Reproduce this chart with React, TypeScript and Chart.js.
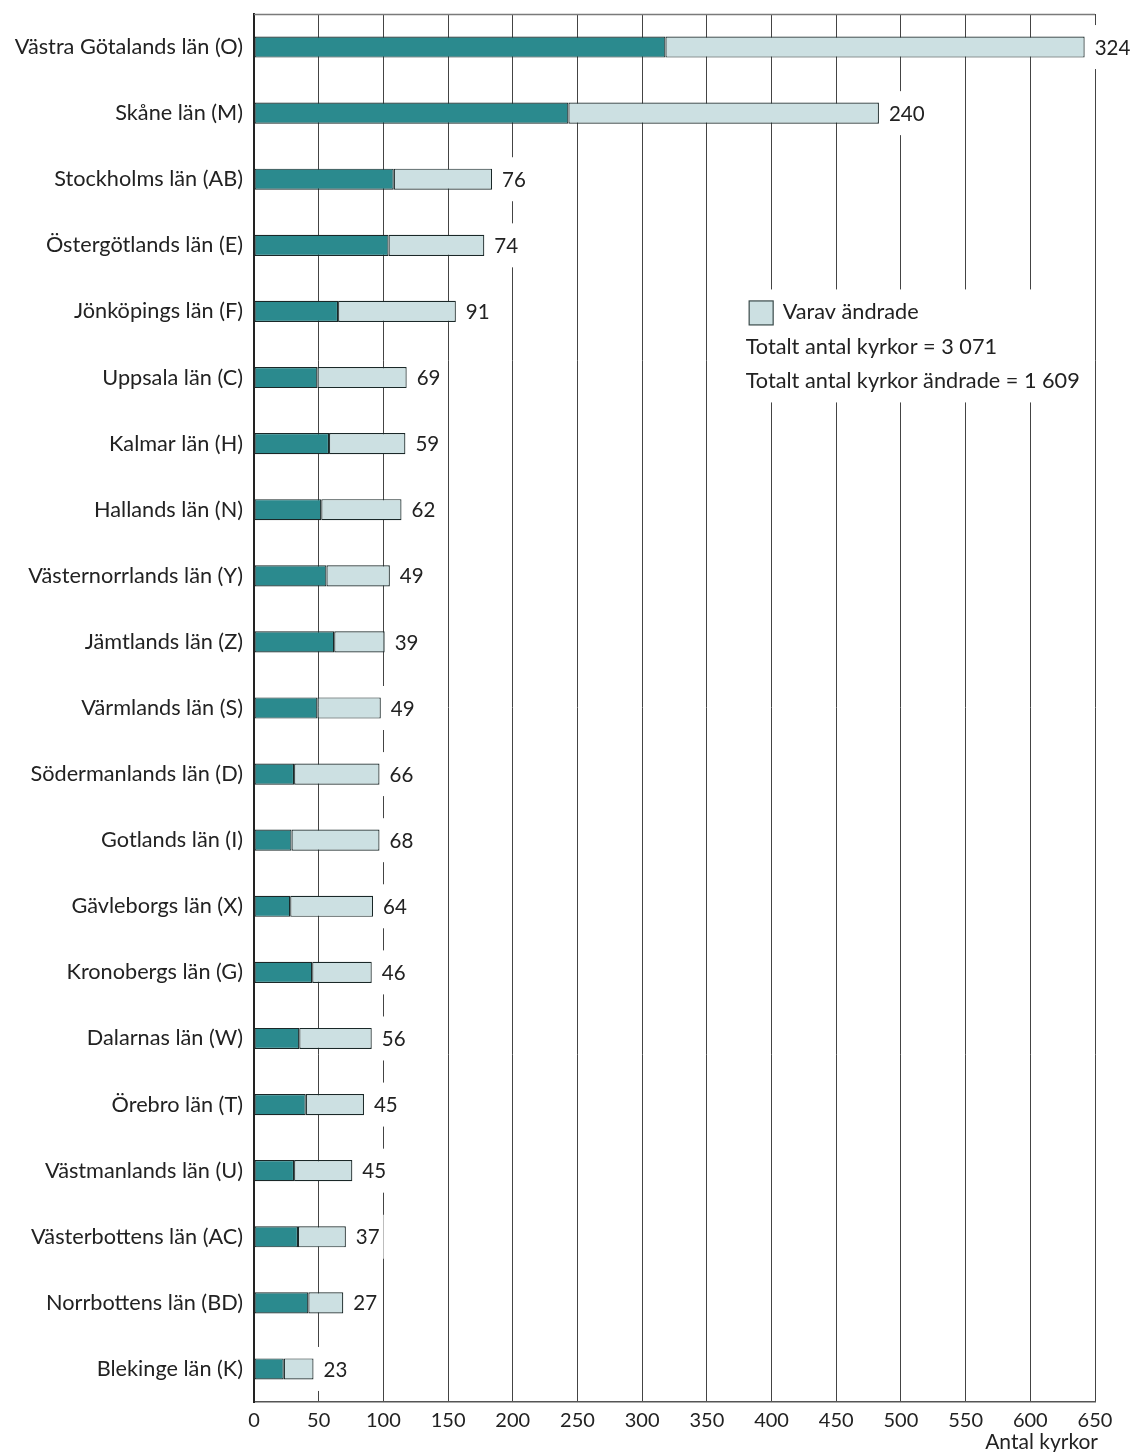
import React, { useEffect, useRef } from "react";
import { Chart, registerables } from "chart.js";

Chart.register(...registerables);

const categories: string[] = [
  "Västra Götalands län (O)",
  "Skåne län (M)",
  "Stockholms län (AB)",
  "Östergötlands län (E)",
  "Jönköpings län (F)",
  "Uppsala län (C)",
  "Kalmar län (H)",
  "Hallands län (N)",
  "Västernorrlands län (Y)",
  "Jämtlands län (Z)",
  "Värmlands län (S)",
  "Södermanlands län (D)",
  "Gotlands län (I)",
  "Gävleborgs län (X)",
  "Kronobergs län (G)",
  "Dalarnas län (W)",
  "Örebro län (T)",
  "Västmanlands län (U)",
  "Västerbottens län (AC)",
  "Norrbottens län (BD)",
  "Blekinge län (K)",
];

// Churches not changed (teal part)
const unchanged: number[] = [318, 243, 108, 104, 65, 49, 58, 52, 56, 62, 49, 31, 29, 28, 45, 35, 40, 31, 34, 42, 23];
// "Varav ändrade" (changed, light part) — also the value labels
const changed: number[] = [324, 240, 76, 74, 91, 69, 59, 62, 49, 39, 49, 66, 68, 64, 46, 56, 45, 45, 37, 27, 23];

const xTicks: number[] = [0, 50, 100, 150, 200, 250, 300, 350, 400, 450, 500, 550, 600, 650];

const legendLabel = "Varav ändrade";
const summaryLines: string[] = ["Totalt antal kyrkor = 3 071", "Totalt antal kyrkor ändrade = 1 609"];
const axisTitle = "Antal kyrkor";

const TEAL = "#2b8a8e";
const LIGHT = "#cce0e2";
const BORDER = "#1a2828";
const TEXT = "#222222";
const FONT = "Lato";

export default function App() {
  const ref = useRef<HTMLCanvasElement | null>(null);

  useEffect(() => {
    if (!ref.current) return;

    const overlay = {
      id: "overlay",
      afterDatasetsDraw(chart: any) {
        const ctx = chart.ctx;
        const meta = chart.getDatasetMeta(1);
        ctx.save();
        // value labels with white background
        ctx.font = `20.5px ${FONT}`;
        ctx.textBaseline = "middle";
        ctx.textAlign = "left";
        meta.data.forEach((bar: any, i: number) => {
          const txt = String(changed[i]);
          const w = ctx.measureText(txt).width;
          const x0 = bar.x + 2;
          ctx.fillStyle = "#ffffff";
          ctx.fillRect(x0, bar.y - 22, w + 12, 44);
          ctx.fillStyle = TEXT;
          ctx.fillText(txt, bar.x + 10, bar.y + 1);
        });

        // legend block
        const xs = chart.scales.x;
        const ys = chart.scales.y;
        const lx = xs.getPixelForValue(380);
        const ly = ys.getPixelForValue(4) - 11;
        ctx.fillStyle = "#ffffff";
        ctx.fillRect(lx - 8, ly - 11, 348, 113);
        ctx.fillStyle = LIGHT;
        ctx.fillRect(lx + 3.5, ly + 0.5, 24, 24);
        ctx.strokeStyle = "#3a4a4a";
        ctx.lineWidth = 1.2;
        ctx.strokeRect(lx + 3.5, ly + 0.5, 24, 24);
        ctx.fillStyle = TEXT;
        ctx.font = `21.7px ${FONT}`;
        ctx.fillText(legendLabel, lx + 37, ly + 12);
        summaryLines.forEach((s, k) => {
          ctx.fillText(s, lx, ly + 47 + k * 34);
        });

        // top frame line
        ctx.strokeStyle = "#7a7a7a";
        ctx.lineWidth = 1.5;
        ctx.beginPath();
        ctx.moveTo(chart.chartArea.left, chart.chartArea.top + 0.5);
        ctx.lineTo(chart.chartArea.right, chart.chartArea.top + 0.5);
        ctx.stroke();

        // axis title
        ctx.font = `21px ${FONT}`;
        ctx.textAlign = "right";
        ctx.fillStyle = TEXT;
        ctx.fillText(axisTitle, chart.chartArea.right + 3, chart.chartArea.bottom + 40);
        ctx.restore();
      },
    };

    const chart = new Chart(ref.current, {
      type: "bar",
      data: {
        labels: categories,
        datasets: [
          {
            label: "Ej ändrade",
            data: unchanged,
            backgroundColor: TEAL,
            borderColor: BORDER,
            borderWidth: 1.2,
            borderSkipped: false,
            barPercentage: 0.32,
            categoryPercentage: 1,
          },
          {
            label: legendLabel,
            data: changed,
            backgroundColor: LIGHT,
            borderColor: BORDER,
            borderWidth: 1.2,
            borderSkipped: false,
            barPercentage: 0.32,
            categoryPercentage: 1,
          },
        ],
      },
      options: {
        indexAxis: "y",
        responsive: false,
        animation: false,
        maintainAspectRatio: false,
        layout: { padding: { top: 14, right: 36, bottom: 0, left: 0 } },
        plugins: {
          legend: { display: false },
          tooltip: { enabled: false },
          title: { display: false },
        },
        scales: {
          x: {
            type: "linear",
            stacked: true,
            min: 0,
            max: 650,
            afterBuildTicks: (scale: any) => {
              scale.ticks = xTicks.map((v) => ({ value: v }));
            },
            afterFit: (scale: any) => {
              scale.height = 50;
              scale.paddingLeft = 0;
              scale.paddingRight = 0;
            },
            grid: {
              display: true,
              color: "#444444",
              lineWidth: 1,
              drawTicks: false,
            },
            border: { display: true, color: "#555555", width: 1.5 },
            ticks: {
              font: { family: FONT, size: 20 },
              color: TEXT,
              padding: 7,
              maxRotation: 0,
              autoSkip: false,
            },
          },
          y: {
            stacked: true,
            afterFit: (scale: any) => {
              scale.width = 254;
              scale.paddingTop = 0;
              scale.paddingBottom = 0;
            },
            grid: { display: false, drawTicks: false },
            border: { display: true, color: "#222222", width: 2 },
            ticks: {
              font: { family: FONT, size: 21.7 },
              color: TEXT,
              padding: 11,
              autoSkip: false,
            },
          },
        },
      },
      plugins: [overlay],
    } as any);

    return () => chart.destroy();
  }, []);

  return (
    <div style={{ position: "absolute", left: 0, top: 0, width: 1131, height: 1452, background: "#fff" }}>
      <canvas ref={ref} width={1131} height={1452} style={{ width: 1131, height: 1452, display: "block" }} />
    </div>
  );
}
